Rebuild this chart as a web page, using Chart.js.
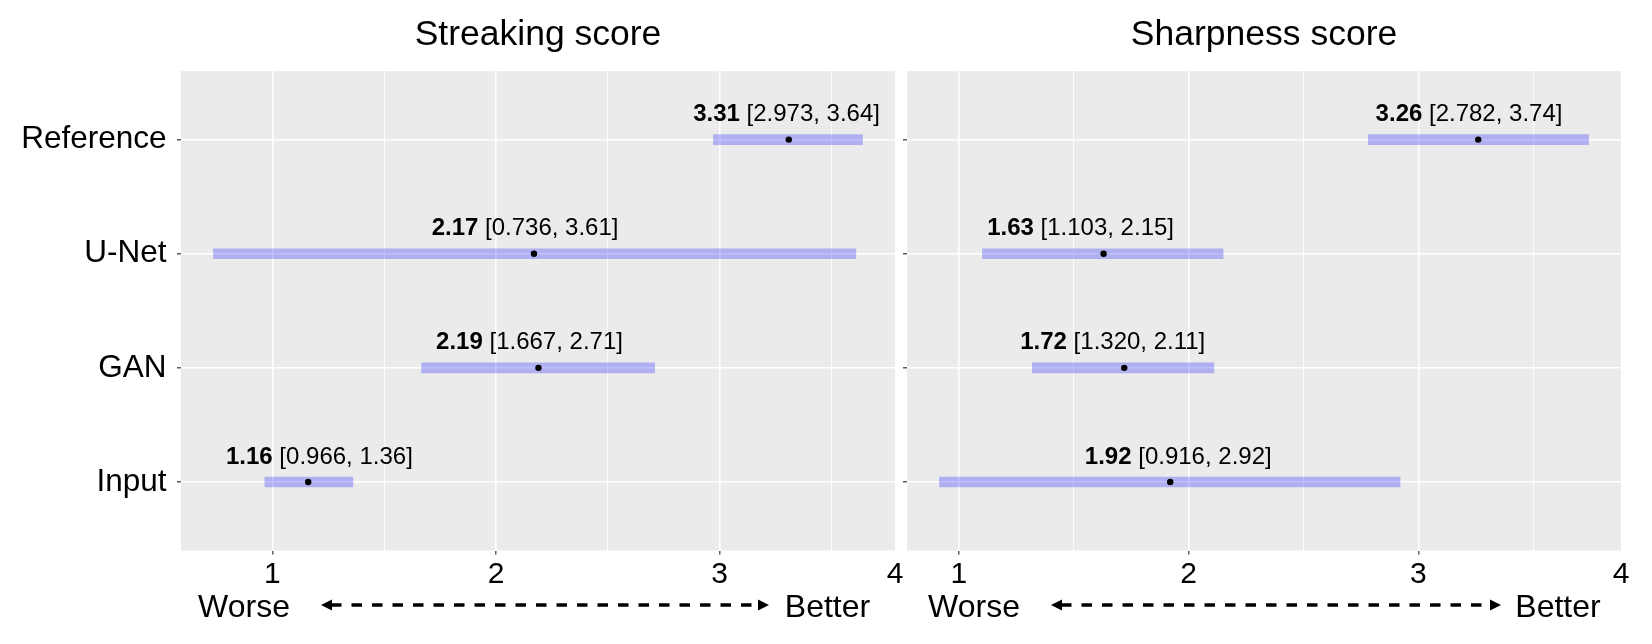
<!DOCTYPE html>
<html>
<head>
<meta charset="utf-8">
<script src="https://cdn.jsdelivr.net/npm/chart.js@4.4.1/dist/chart.umd.min.js"></script>
<style>
  html, body { margin: 0; padding: 0; background: #ffffff; overflow: hidden; }
  #wrap { position: relative; width: 1652px; height: 644px; background: #ffffff; }
  #wrap canvas { position: absolute; left: 0; top: 0; }
</style>
</head>
<body>
<div id="wrap">
  <canvas id="left" width="1652" height="644"></canvas>
  <canvas id="right" width="1652" height="644"></canvas>
</div>
<script>
// ---------------- data ----------------
const categories = ['Reference', 'U-Net', 'GAN', 'Input'];

const streakEstimate = [3.31, 2.17, 2.19, 1.16];
const streakLower = [2.973, 0.736, 1.667, 0.966];
const streakUpper = [3.64, 3.61, 2.71, 1.36];
const streakLabelAt = [3.30, 2.13, 2.15, 1.21];

const sharpEstimate = [3.26, 1.63, 1.72, 1.92];
const sharpLower = [2.782, 1.103, 1.320, 0.916];
const sharpUpper = [3.74, 2.15, 2.11, 2.92];
const sharpLabelAt = [3.22, 1.53, 1.67, 1.955];

const majorTicks = [1, 2, 3];
const minorTicks = [1.5, 2.5, 3.5];
const xTickLabels = ['1', '2', '3', '4'];

const titles = ['Streaking score', 'Sharpness score'];
const worseText = 'Worse';
const betterText = 'Better';

// ---------------- styling ----------------
const FONT = '"Liberation Sans", Arial, Helvetica, sans-serif';
const W = 1652, H = 644;

const panelBg = {
  id: 'panelBg',
  beforeDraw(chart) {
    const a = chart.chartArea, c = chart.ctx;
    c.save();
    c.fillStyle = '#EBEBEB';
    c.fillRect(a.left, a.top, a.right - a.left, a.bottom - a.top);
    c.restore();
  }
};

const ciLabels = {
  id: 'ciLabels',
  afterDatasetsDraw(chart, args, opts) {
    const c = chart.ctx, xs = chart.scales.x, ys = chart.scales.y;
    c.save();
    c.fillStyle = '#000';
    c.textBaseline = 'alphabetic';
    c.textAlign = 'left';
    opts.est.forEach((e, i) => {
      const bold = e.toFixed(2);
      const rest = ' [' + opts.lo[i].toFixed(3) + ', ' + opts.hi[i].toFixed(2) + ']';
      c.font = 'bold 24px ' + FONT;
      const wb = c.measureText(bold).width;
      c.font = '24px ' + FONT;
      const wr = c.measureText(rest).width;
      const cx = xs.getPixelForValue(opts.at[i]);
      const y = ys.getPixelForValue(i + 1) - 18.5;
      const x0 = cx - (wb + wr) / 2;
      c.font = 'bold 24px ' + FONT;
      c.fillText(bold, x0, y);
      c.font = '24px ' + FONT;
      c.fillText(rest, x0 + wb, y);
    });
    c.restore();
  }
};

const axisNote = {
  id: 'axisNote',
  afterDraw(chart, args, o) {
    const a = chart.chartArea, c = chart.ctx;
    const y = 605;
    c.save();
    c.fillStyle = '#000';
    c.strokeStyle = '#000';
    c.font = '32px ' + FONT;
    c.textAlign = 'center';
    c.textBaseline = 'alphabetic';
    c.fillText(worseText, a.left + o.worse, y + 11.5);
    c.fillText(betterText, a.right - o.better, y + 11.5);
    const x1 = a.left + o.start, x2 = a.right - o.end;
    const ah = 11, hw = 5.5;
    c.lineWidth = 3.5;
    c.setLineDash([10.5, 10]);
    c.beginPath();
    c.moveTo(x1 + ah - 1, y);
    c.lineTo(x2 - ah + 1, y);
    c.stroke();
    c.setLineDash([]);
    c.beginPath();
    c.moveTo(x1, y); c.lineTo(x1 + ah, y - hw); c.lineTo(x1 + ah, y + hw); c.closePath();
    c.fill();
    c.beginPath();
    c.moveTo(x2, y); c.lineTo(x2 - ah, y - hw); c.lineTo(x2 - ah, y + hw); c.closePath();
    c.fill();
    c.restore();
  }
};

function makeChart(canvasId, title, est, lo, hi, at, side) {
  const dmin = Math.min(...lo), dmax = Math.max(...hi);
  const span = dmax - dmin;
  const xmin = dmin - 0.05 * span, xmax = dmax + 0.05 * span;
  const isLeft = side === 'left';
  const xTickValues = [...majorTicks, ...minorTicks].filter(v => v > xmin && v < xmax).sort((a, b) => a - b);
  const isMajor = v => majorTicks.includes(v);
  const isMax = v => Math.abs(v - xmax) < 1e-9;

  return new Chart(document.getElementById(canvasId), {
    type: 'bar',
    data: {
      datasets: [
        {
          type: 'bar',
          indexAxis: 'y',
          data: categories.map((c, i) => ({ y: i + 1, x: [lo[i], hi[i]] })),
          backgroundColor: 'rgba(0, 0, 255, 0.25)',
          borderWidth: 0,
          barThickness: 10,
          order: 2
        },
        {
          type: 'scatter',
          data: categories.map((c, i) => ({ x: est[i], y: i + 1 })),
          pointRadius: 3.2,
          pointBackgroundColor: '#000',
          pointBorderWidth: 0,
          showLine: false,
          order: 1
        }
      ]
    },
    options: {
      responsive: false,
      animation: false,
      devicePixelRatio: 1,
      indexAxis: 'y',
      layout: {
        padding: isLeft ? { left: 0, right: W - 895, top: 0, bottom: 0 }
                        : { left: 887, right: W - 1621, top: 0, bottom: 0 }
      },
      scales: {
        x: {
          type: 'linear',
          position: 'bottom',
          offset: false,
          min: xmin,
          max: xmax,
          afterBuildTicks: s => { s.ticks = [...xTickValues, xmax].map(v => ({ value: v })); },
          afterFit: s => { s.height = 93.5; },
          ticks: {
            autoSkip: false,
            maxRotation: 0,
            padding: 2,
            color: '#000',
            font: { family: FONT, size: 30 },
            callback: v => {
              if (isMax(v)) return xTickLabels[3];
              const k = majorTicks.indexOf(v);
              return k >= 0 ? xTickLabels[k] : '';
            }
          },
          grid: {
            offset: false,
            drawOnChartArea: true,
            color: ctx => (ctx.tick && isMax(ctx.tick.value)) ? 'rgba(0,0,0,0)' : '#FFFFFF',
            lineWidth: ctx => (ctx.tick && isMajor(ctx.tick.value)) ? 1.6 : 0.8,
            tickLength: 4,
            tickWidth: 1.2,
            tickColor: ctx => (ctx.tick && isMajor(ctx.tick.value)) ? '#333333' : 'rgba(0,0,0,0)'
          },
          border: { display: false }
        },
        y: {
          type: 'linear',
          position: 'left',
          offset: false,
          min: 0.4,
          max: categories.length + 0.6,
          reverse: true,
          afterBuildTicks: s => { s.ticks = categories.map((c, i) => ({ value: i + 1 })); },
          afterFit: s => { s.width = isLeft ? 181 : 20; },
          ticks: {
            display: isLeft,
            autoSkip: false,
            padding: 10.5,
            color: '#000',
            font: { family: FONT, size: 31.5 },
            callback: v => categories[Math.round(v) - 1]
          },
          grid: {
            offset: false,
            color: '#FFFFFF',
            lineWidth: 1.6,
            tickLength: 4,
            tickWidth: 1.2,
            tickColor: '#333333'
          },
          border: { display: false }
        }
      },
      plugins: {
        legend: { display: false },
        tooltip: { enabled: false },
        title: {
          display: true,
          text: title,
          fullSize: false,
          color: '#000',
          font: { family: FONT, size: 35.5, weight: 'normal' },
          padding: { top: 13.5, bottom: 15 }
        },
        ciLabels: { est, lo, hi, at },
        axisNote: isLeft ? { worse: 63, better: 67.5, start: 140, end: 126 }
                         : { worse: 67, better: 63, start: 144, end: 120 }
      }
    },
    plugins: [panelBg, ciLabels, axisNote]
  });
}

makeChart('left', titles[0], streakEstimate, streakLower, streakUpper, streakLabelAt, 'left');
makeChart('right', titles[1], sharpEstimate, sharpLower, sharpUpper, sharpLabelAt, 'right');
</script>
</body>
</html>
